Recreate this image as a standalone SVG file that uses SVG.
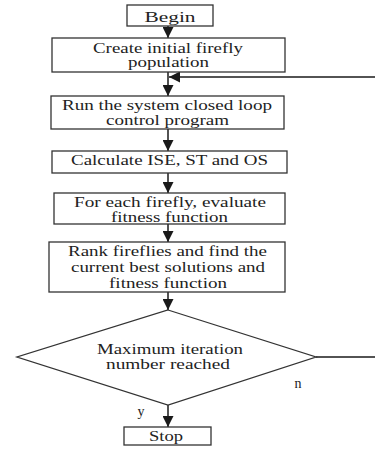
<svg xmlns="http://www.w3.org/2000/svg" width="375" height="449" viewBox="0 0 375 449">
<defs>
<marker id="ah" viewBox="0 0 10 10" refX="10" refY="5" markerWidth="11" markerHeight="11" markerUnits="userSpaceOnUse" orient="auto">
<path d="M0,0 L10,5 L0,10 Z" fill="#1a1a1a"/>
</marker>
</defs>
<style>
.box{fill:#fff;stroke:#333;stroke-width:1.3}
.t{font-family:"Liberation Serif","Times New Roman",serif;font-size:14px;fill:#222;text-anchor:middle}
.c{stroke:#1a1a1a;stroke-width:1.5;fill:none}
</style>
<rect width="375" height="449" fill="#fff"/>
<g id="connectors">
<line class="c" x1="168" y1="26" x2="168" y2="38" marker-end="url(#ah)"/>
<line class="c" x1="168" y1="72" x2="168" y2="96" marker-end="url(#ah)"/>
<polyline class="c" points="316,357 375,357"/>
<line class="c" x1="375" y1="77" x2="169" y2="77" marker-end="url(#ah)"/>
<line class="c" x1="168" y1="129" x2="168" y2="151" marker-end="url(#ah)"/>
<line class="c" x1="168" y1="173" x2="168" y2="193" marker-end="url(#ah)"/>
<line class="c" x1="168" y1="224" x2="168" y2="242" marker-end="url(#ah)"/>
<line class="c" x1="168" y1="292" x2="168" y2="310" marker-end="url(#ah)"/>
<line class="c" x1="168" y1="405" x2="168" y2="427" marker-end="url(#ah)"/>
<text class="t" x="298" y="388">n</text>
<text class="t" x="141" y="416">y</text>
</g>
<g id="begin">
<rect class="box" x="127" y="5" width="86" height="21"/>
<text class="t" x="170" y="22" textLength="51" lengthAdjust="spacingAndGlyphs">Begin</text>
</g>
<g id="create">
<rect class="box" x="52" y="38" width="233" height="34"/>
<text class="t" x="168" y="52.5" textLength="150" lengthAdjust="spacingAndGlyphs">Create initial firefly</text>
<text class="t" x="168.5" y="66.5" textLength="81" lengthAdjust="spacingAndGlyphs">population</text>
</g>
<g id="run">
<rect class="box" x="51" y="96" width="233" height="33"/>
<text class="t" x="167" y="110" textLength="210" lengthAdjust="spacingAndGlyphs">Run the system closed loop</text>
<text class="t" x="167.5" y="124.5" textLength="123" lengthAdjust="spacingAndGlyphs">control program</text>
</g>
<g id="calc">
<rect class="box" x="52" y="151" width="235" height="22"/>
<text class="t" x="169.5" y="164.5" textLength="197" lengthAdjust="spacingAndGlyphs">Calculate ISE, ST and OS</text>
</g>
<g id="evaluate">
<rect class="box" x="54" y="193" width="231" height="31"/>
<text class="t" x="170" y="206.5" textLength="192" lengthAdjust="spacingAndGlyphs">For each firefly, evaluate</text>
<text class="t" x="169.5" y="221.5" textLength="117" lengthAdjust="spacingAndGlyphs">fitness function</text>
</g>
<g id="rank">
<rect class="box" x="49" y="242" width="236" height="50"/>
<text class="t" x="167.5" y="256" textLength="199" lengthAdjust="spacingAndGlyphs">Rank fireflies and find the</text>
<text class="t" x="168" y="271.5" textLength="194" lengthAdjust="spacingAndGlyphs">current best solutions and</text>
<text class="t" x="168" y="287.5" textLength="118" lengthAdjust="spacingAndGlyphs">fitness function</text>
</g>
<g id="decision">
<polygon class="box" points="168,310 316,357 168,405 17,357"/>
<text class="t" x="170" y="354" textLength="146" lengthAdjust="spacingAndGlyphs">Maximum iteration</text>
<text class="t" x="168" y="369" textLength="124" lengthAdjust="spacingAndGlyphs">number reached</text>
</g>
<g id="stop">
<rect class="box" x="124" y="427" width="87" height="18"/>
<text class="t" x="166" y="440.5" textLength="34" lengthAdjust="spacingAndGlyphs">Stop</text>
</g>
</svg>
